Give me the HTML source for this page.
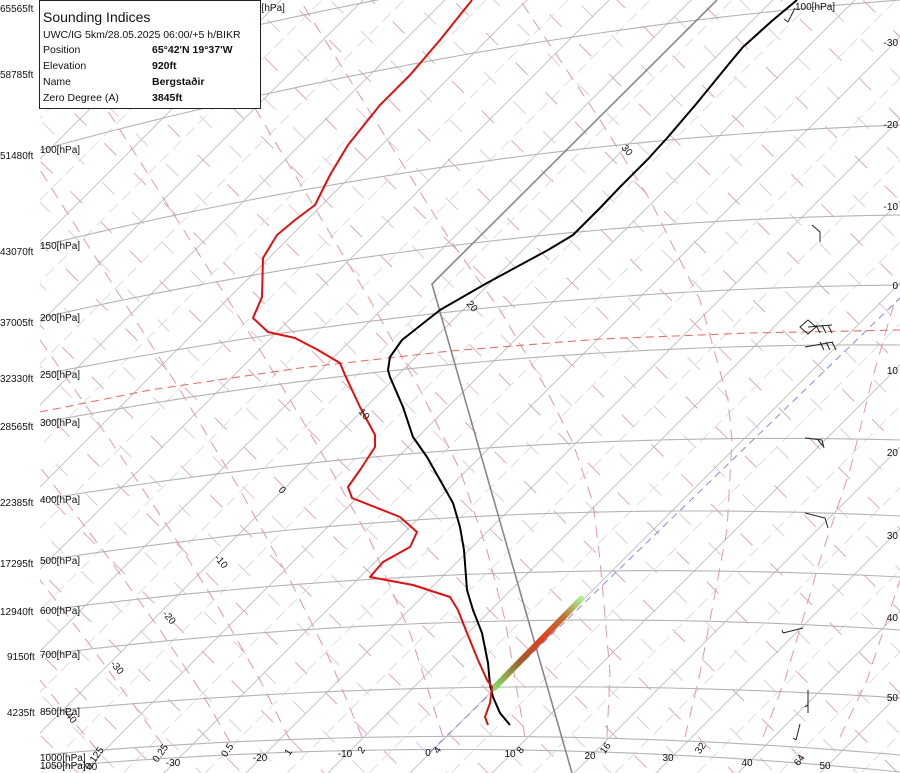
<!DOCTYPE html>
<html><head><meta charset="utf-8"><style>
html,body{margin:0;padding:0;background:#fff;width:900px;height:773px;overflow:hidden;}
svg{display:block;font-family:"Liberation Sans",sans-serif;}
.box{position:absolute;left:39px;top:0;width:220px;height:107px;border:1px solid #222;background:#fff;font-family:"Liberation Sans",sans-serif;font-size:10.5px;color:#111;}
.box .t{position:absolute;left:3px;top:8px;font-size:14px;}
.box div{position:absolute;white-space:nowrap;}
</style></head><body>
<div style="position:relative;width:900px;height:773px;overflow:hidden">
<svg id="s" width="900" height="773" viewBox="0 0 900 773"></svg>
<div class="box">
<div class="t">Sounding Indices</div>
<div style="left:3px;top:28px">UWC/IG 5km/28.05.2025 06:00/+5 h/BIKR</div>
<div style="left:3px;top:43px">Position</div><div style="left:112px;top:43px;font-weight:bold">65°42'N 19°37'W</div>
<div style="left:3px;top:59px">Elevation</div><div style="left:112px;top:59px;font-weight:bold">920ft</div>
<div style="left:3px;top:75px">Name</div><div style="left:112px;top:75px;font-weight:bold">Bergstaðir</div>
<div style="left:3px;top:91px">Zero Degree (A)</div><div style="left:112px;top:91px;font-weight:bold">3845ft</div>
</div>
</div>
<script>
const S=document.getElementById('s');let h='';
h+='<defs><clipPath id="c"><rect x="40" y="0" width="860" height="773"/></clipPath><linearGradient id="g" x1="0" y1="1" x2="1" y2="0"><stop offset="0" stop-color="#7ee06a"/><stop offset="0.3" stop-color="#a0602a"/><stop offset="0.55" stop-color="#e04020"/><stop offset="0.8" stop-color="#c07030"/><stop offset="1" stop-color="#a8f090"/></linearGradient></defs>';
h+='<g clip-path="url(#c)">';
// adiabats
let i=0;
for(let c=-900;c<=900;c+=41){i++;h+=`<line x1="${c-100}" y1="-100" x2="${c+900}" y2="900" stroke="${i%2?'#e2c6e4':'#dca8b6'}" stroke-width="1" stroke-dasharray="17 25" stroke-dashoffset="${(i*13)%42}"/>`;}
// isotherms
for(let T=-150;T<=70;T+=5){const k=1183+8.2*T;h+=`<line x1="${k-900}" y1="900" x2="${k+100}" y2="-100" stroke="${T%10==0?'#bcbcbc':'#dedede'}" stroke-width="${T%10==0?0.9:1}" ${T%10==0?'':'stroke-dasharray="12 6"'}/>`;}
// isobars
const P=[[70,77,-40,-80],[100,150,33,0],[150,246,147,125],[200,318,230,215],[250,375,298,285],[300,423,353,345],[400,500,442,440],[500,561,512,516],[600,611,571,577],[700,655,620,630],[850,712,687,698],[1000,755,738,755],[1050,768,752,772]];
function q(a,b,c,x){const x0=40,x1=600,x2=900;return a*(x-x1)*(x-x2)/((x0-x1)*(x0-x2))+b*(x-x0)*(x-x2)/((x1-x0)*(x1-x2))+c*(x-x0)*(x-x1)/((x2-x0)*(x2-x1));}
P.forEach(p=>{let d='';for(let x=40;x<=900;x+=10)d+=(x==40?'M':'L')+x+','+q(p[1],p[2],p[3],x).toFixed(1);h+=`<path d="${d}" fill="none" stroke="#b4b4b4" stroke-width="1.1"/>`;});
// mixing ratio
const M=[[[97,750],[60,705],[20,655],[0,630]],[[163,745],[130,700],[90,645],[40,580],[0,530]],[[230,742],[200,690],[160,630],[110,560],[50,480],[0,415]],[[290,740],[260,680],[220,610],[170,530],[110,440],[40,340],[0,285]],[[362,737],[330,660],[290,580],[240,490],[180,390],[110,280],[40,170],[0,110]],[[443,737],[410,633],[370,540],[320,450],[260,350],[190,240],[120,130],[50,20]],[[525,737],[505,620],[487,550],[460,470],[420,390],[370,300],[310,200],[250,100],[190,0]],[[607,737],[610,673],[600,560],[593,503],[573,443],[543,383],[500,310],[450,240],[400,160],[350,80],[300,0]],[[685,737],[700,673],[727,530],[732,440],[728,400],[700,300],[650,200],[600,120],[560,60],[520,0]],[[763,737],[785,680],[820,560],[850,470],[872,380],[895,300]],[[840,737],[867,680],[900,580]]];
M.forEach(m=>{h+=`<polyline points="${m.map(p=>p.join(',')).join(' ')}" fill="none" stroke="#e09aa0" stroke-width="1" stroke-dasharray="12 8"/>`;});
h+='<polyline points="40,412 150,390 300,368 450,351 600,339 750,333 900,330" fill="none" stroke="#e87070" stroke-width="1.1" stroke-dasharray="8 5"/>';
h+='<line x1="430" y1="752" x2="900" y2="298" stroke="#8888dd" stroke-width="1" stroke-dasharray="7 5"/>';
h+='<polyline points="572,773 432,284 717,0" fill="none" stroke="#888" stroke-width="1.6"/>';
h+='<line x1="494" y1="688" x2="581" y2="599" stroke="url(#g)" stroke-width="6" stroke-linecap="round"/>';
const K=[[510,725],[500,713],[493,697],[490,685],[488,663],[482,633],[473,610],[467,590],[464,550],[460,527],[453,503],[440,480],[427,457],[413,437],[403,407],[390,377],[388,370],[390,357],[402,340],[440,310],[487,283],[548,250],[573,235],[600,208],[620,187],[648,159],[668,137],[697,103],[728,65],[743,47],[773,20],[797,0]];
h+=`<polyline points="${K.map(p=>p.join(',')).join(' ')}" fill="none" stroke="#000" stroke-width="2" stroke-linejoin="round"/>`;
const R=[[488,725],[485,717],[490,703],[492,687],[487,680],[478,660],[467,633],[458,610],[450,597],[413,585],[370,577],[383,562],[410,547],[417,532],[400,517],[352,498],[348,487],[360,470],[375,447],[375,435],[360,407],[345,375],[340,363],[318,350],[295,338],[268,332],[253,318],[262,297],[263,258],[277,235],[295,220],[315,205],[330,175],[348,145],[380,105],[410,75],[440,40],[472,0]];
h+=`<polyline points="${R.map(p=>p.join(',')).join(' ')}" fill="none" stroke="#e01010" stroke-width="2" stroke-linejoin="round"/>`;
h+='</g>';
const B=['M795,8 L788,22 M788,22 l-4,-3','M812,225 L820,232 L820,242','M800,327 L808,320 L816,327 L808,334 Z M808,327 L832,325 M816,325 l4,8 M822,325 l4,8 M828,325 l4,8','M805,347 L833,342 M820,342 l4,8 M826,342 l4,8 M832,342 l4,8','M805,438 L822,440 M818,440 l5,6 M822,440 l2,8','M805,513 L825,518 L828,528','M783,633 L803,628 M783,633 l-1,-3','M808,690 L808,713 M808,705 l-3,2','M800,724 L796,740 M796,740 l-3,-2'];
B.forEach(b=>h+=`<path d="${b}" fill="none" stroke="#222" stroke-width="1"/>`);
const t=(x,y,s,r,a)=>h+=`<text x="${x}" y="${y}" font-size="10" fill="#111" ${a?'text-anchor="'+a+'"':''} ${r?`transform="rotate(${r} ${x} ${y})"`:''}>${s}</text>`;
[['65565ft',12],['58785ft',78],['51480ft',159],['43070ft',255],['37005ft',326],['32330ft',382],['28565ft',430],['22385ft',506],['17295ft',567],['12940ft',615],['9150ft',660],['4235ft',716]].forEach(l=>t(l[0].length>6?0:7,l[1],l[0]));
[['100',153],['150',249],['200',321],['250',378],['300',426],['400',503],['500',564],['600',614],['700',658],['850',715],['1000',761],['1050',769]].forEach(l=>t(40,l[1],l[0]+'[hPa]'));
t(795,10,'100[hPa]');t(256,11,'0[hPa]');
[[-40,90,770],[-30,173,766],[-20,260,761],[-10,345,757],[0,428,756],[10,510,757],[20,590,759],[30,668,761],[40,747,766],[50,825,769]].forEach(l=>t(l[1],l[2],l[0],0,'middle'));
[[-30,46],[-20,128],[-10,210],[0,289],[10,374],[20,456],[30,539],[40,621],[50,701]].forEach(l=>t(898,l[1],l[0],0,'end'));
[['0.125',97,760],['0.25',163,755],['0.5',230,752],['1',291,754],['2',364,752],['4',440,752],['8',523,752],['16',608,750],['32',703,750],['64',802,762]].forEach(l=>t(l[1],l[2],l[0],-55,'middle'));
[['-40',63,713],['-30',110,664],['-20',162,614],['-10',214,558],['0',278,490],['10',358,412],['20',466,304],['30',621,148]].forEach(l=>t(l[1],l[2],l[0],50,'start'));
S.innerHTML=h;
</script>
</body></html>
